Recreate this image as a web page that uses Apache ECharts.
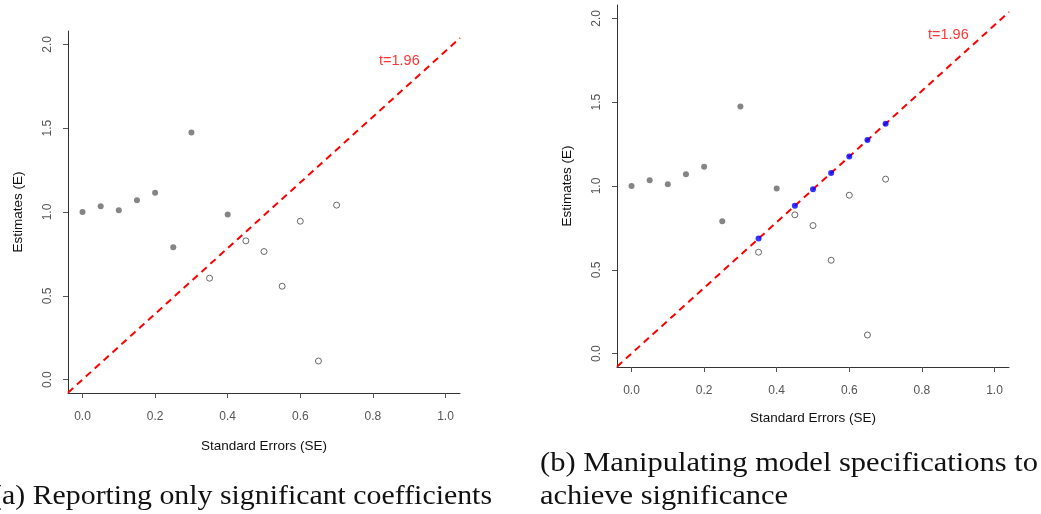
<!DOCTYPE html>
<html lang="en">
<head>
  <meta charset="UTF-8">
  <title>Significance scatter</title>
  <script src="https://cdn.jsdelivr.net/npm/echarts@6/dist/echarts.min.js"></script>
  <style>
    html, body { margin: 0; padding: 0; background: #fff; }
  </style>
</head>
<body>
<div id="main" style="width: 1041px;height:514px;"></div>
<script type="text/javascript">
  // data
  var sigPoints = [[0.00, 1.00], [0.05, 1.035], [0.10, 1.01], [0.15, 1.07], [0.20, 1.115], [0.25, 0.79], [0.30, 1.475], [0.40, 0.985]];
  var insigPoints = [[0.35, 0.605], [0.45, 0.828], [0.50, 0.764], [0.55, 0.557], [0.60, 0.945], [0.65, 0.111], [0.70, 1.041]];
  var manipPoints = [[0.35, 0.686], [0.45, 0.882], [0.50, 0.98], [0.55, 1.078], [0.60, 1.176], [0.65, 1.274], [0.70, 1.372]];
  var tLine = [[-0.04, -0.078], [1.04, 2.038]];
  var tLabelPos = [[0.873, 1.90]];
  var xTicks = [0, 0.2, 0.4, 0.6, 0.8, 1.0];
  var yTicks = [0, 0.5, 1.0, 1.5, 2.0];

  var myChart = echarts.init(document.getElementById('main'));

  // captions are in a wide serif (CM), stretch to the measured widths
  var capFont = '27px "Liberation Serif"';
  var cv = document.createElement('canvas').getContext('2d');
  cv.font = capFont;
  function sx(text, w) { return w / cv.measureText(text).width; }
  var sA = sx('a) Reporting only significant coefficients', 490);
  var sB = sx('(b) Manipulating model specifications to', 498);

  function xAxis(idx, gap) {
    return {
      gridIndex: idx, type: 'value', min: -0.04, max: 1.04,
      name: 'Standard Errors (SE)', nameLocation: 'middle', nameGap: gap,
      nameTextStyle: { color: '#111', fontSize: 13.5, fontFamily: 'Liberation Sans' },
      splitLine: { show: false },
      axisLine: { onZero: false, lineStyle: { color: '#333', width: 1 } },
      axisTick: { customValues: xTicks, length: 5, lineStyle: { color: '#555' } },
      axisLabel: {
        customValues: xTicks, margin: 18, color: '#555', fontSize: 12, fontFamily: 'Liberation Sans',
        formatter: function (v) { return v.toFixed(1); }
      }
    };
  }
  function yAxis(idx) {
    return {
      gridIndex: idx, type: 'value', min: -0.08, max: 2.08,
      name: 'Estimates (E)', nameLocation: 'middle', nameGap: 43,
      nameTextStyle: { color: '#111', fontSize: 13.5, fontFamily: 'Liberation Sans' },
      splitLine: { show: false },
      axisLine: { onZero: false, lineStyle: { color: '#333', width: 1 } },
      axisTick: { customValues: yTicks, length: 5, lineStyle: { color: '#555' } },
      axisLabel: {
        customValues: yTicks, margin: 14, rotate: 90, color: '#555', fontSize: 12, fontFamily: 'Liberation Sans',
        formatter: function (v) { return v.toFixed(1); }
      }
    };
  }
  function panelSeries(idx) {
    return [
      {
        type: 'line', xAxisIndex: idx, yAxisIndex: idx, data: tLine, symbol: 'none', silent: true,
        lineStyle: { color: '#ff0000', width: 2, type: [7, 5] }, z: 1
      },
      {
        type: 'scatter', xAxisIndex: idx, yAxisIndex: idx, data: sigPoints, symbolSize: 6,
        itemStyle: { color: '#666' }, z: 3
      },
      {
        type: 'scatter', xAxisIndex: idx, yAxisIndex: idx, data: insigPoints, symbolSize: 6,
        itemStyle: { color: '#fff', borderColor: '#444', borderWidth: 1 }, z: 3
      },
      {
        type: 'scatter', xAxisIndex: idx, yAxisIndex: idx, data: tLabelPos, symbolSize: 0,
        label: {
          show: true, position: 'inside', formatter: 't=1.96', color: '#ff0000',
          fontSize: 14.5, fontFamily: 'Liberation Sans'
        }, z: 4
      }
    ];
  }

  var series = panelSeries(0).concat(panelSeries(1));
  series.push({
    type: 'scatter', xAxisIndex: 1, yAxisIndex: 1, data: manipPoints, symbolSize: 6,
    itemStyle: { color: '#0000ff' }, z: 5
  });

  myChart.setOption({
    animation: false,
    grid: [
      { left: 68, top: 31, width: 392, height: 362 },
      { left: 617, top: 5, width: 392, height: 362 }
    ],
    xAxis: [xAxis(0, 46), xAxis(1, 44)],
    yAxis: [yAxis(0), yAxis(1)],
    series: series,
    graphic: [
      {
        type: 'text', x: 492, y: 497, scaleX: sA, originX: 0,
        style: { text: '(a) Reporting only significant coefficients', font: capFont, fill: '#111', align: 'right', verticalAlign: 'middle' }
      },
      {
        type: 'text', x: 540, y: 464, scaleX: sB, originX: 0,
        style: { text: '(b) Manipulating model specifications to', font: capFont, fill: '#111', align: 'left', verticalAlign: 'middle' }
      },
      {
        type: 'text', x: 540, y: 497, scaleX: sB, originX: 0,
        style: { text: 'achieve significance', font: capFont, fill: '#111', align: 'left', verticalAlign: 'middle' }
      }
    ]
  });
</script>
</body>
</html>
